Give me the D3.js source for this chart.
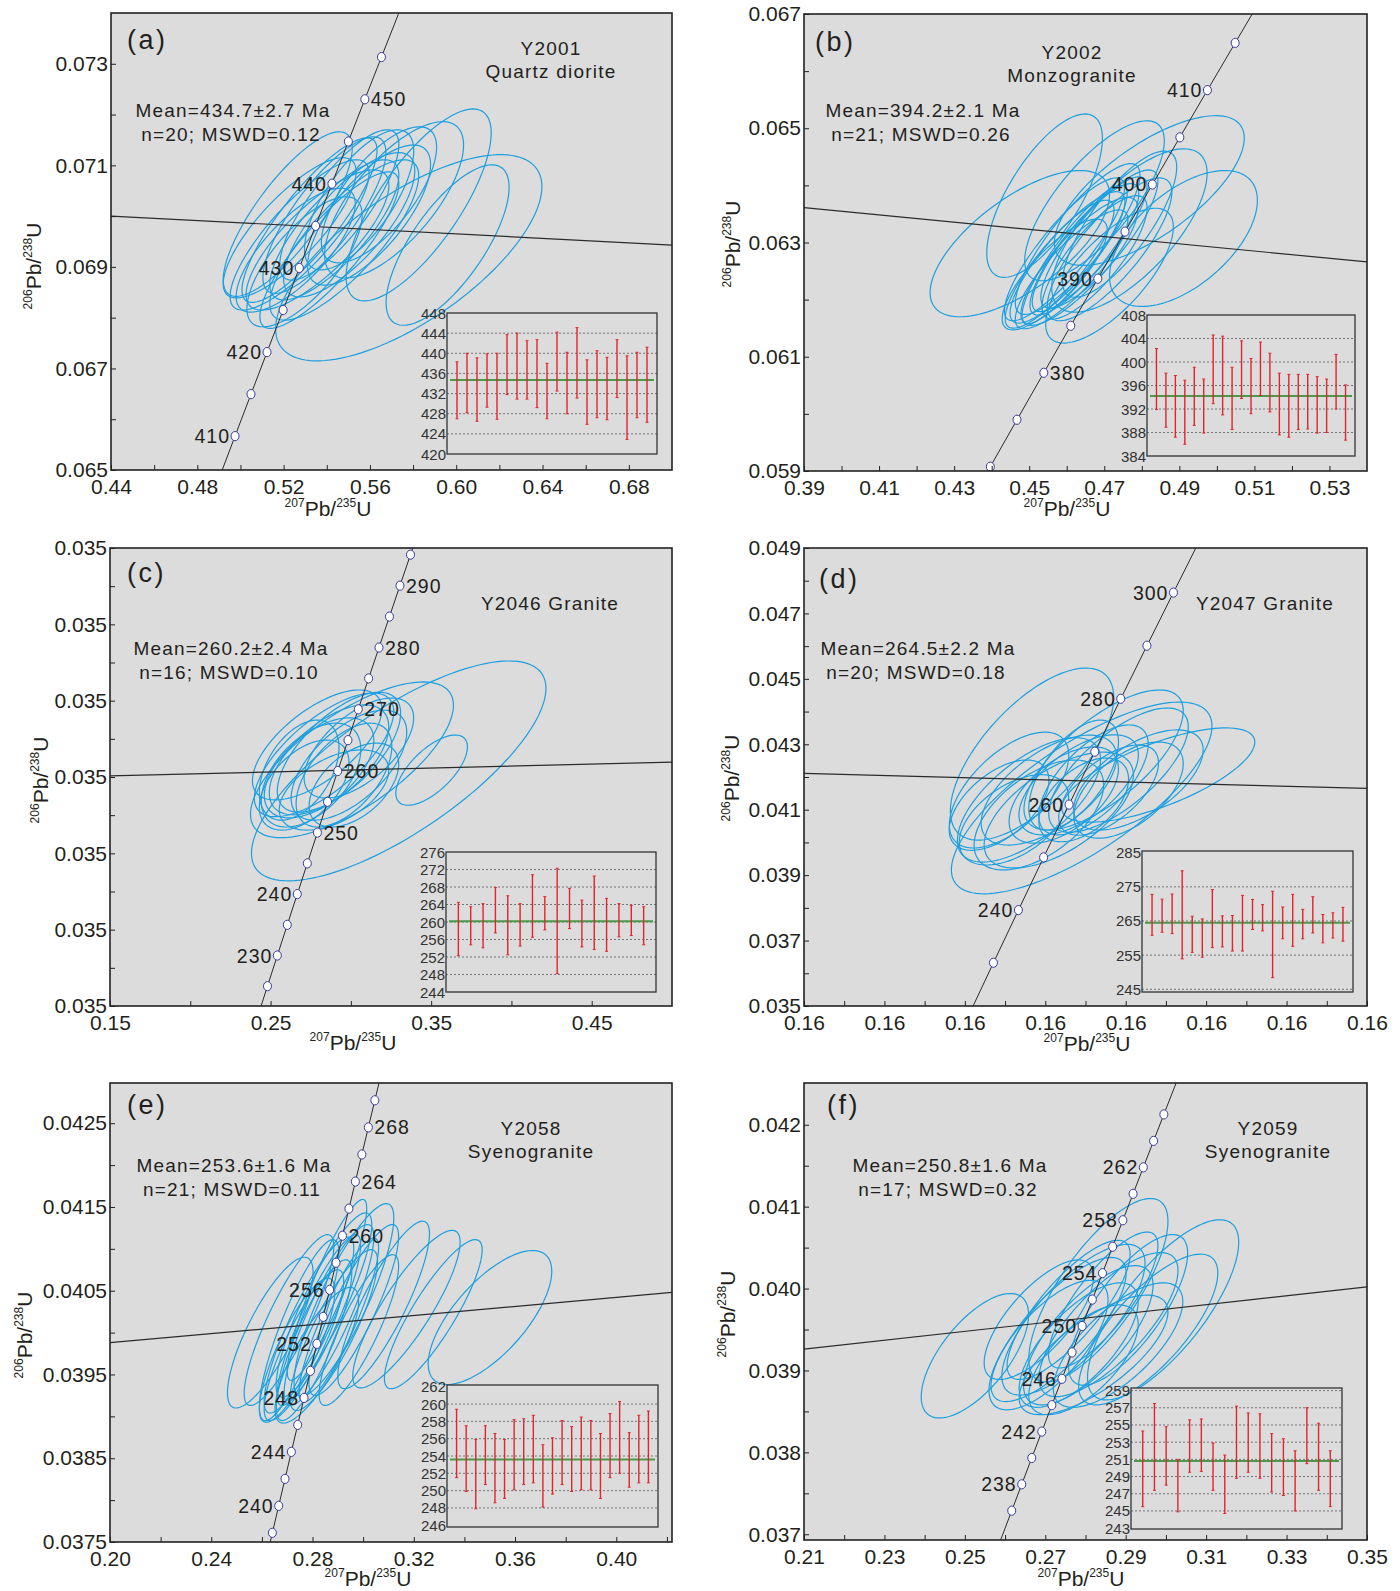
<!DOCTYPE html>
<html>
<head>
<meta charset="utf-8">
<script src="https://cdn.jsdelivr.net/npm/d3@7"></script>
<style>
  body { margin: 0; background: #fff; }
  svg { font-family: "Liberation Sans", Arial, Helvetica, sans-serif; }
</style>
</head>
<body>
<svg id="fig" width="1400" height="1591"></svg>
<script>
// decay constants (per year) used to place the concordia ages
const L235 = 9.8485e-10, L238 = 1.55125e-10;

// ---------- panel (a) Y2001 ----------
const xTicksA = [0.44, 0.48, 0.52, 0.56, 0.60, 0.64, 0.68];
const xLabelsA = ['0.44', '0.48', '0.52', '0.56', '0.60', '0.64', '0.68'];
const xMinorA = [0.46, 0.50, 0.54, 0.58, 0.62, 0.66];
const yTicksA = [0.065, 0.067, 0.069, 0.071, 0.073];
const yLabelsA = ['0.065', '0.067', '0.069', '0.071', '0.073'];
const yMinorA = [0.066, 0.068, 0.070, 0.072];
const markerAgesA = [410, 415, 420, 425, 430, 435, 440, 445, 450, 455];
const lineAgesA = [395, 400, 405, 410, 415, 420, 425, 430, 435, 440, 445, 450, 455, 460, 465, 470];
const ageLabelsA = [[410, 'L'], [420, 'L'], [430, 'L'], [440, 'L'], [450, 'R']];
// [207Pb/235U, err, 206Pb/238U, err, rho]
const ellipsesA = [
  [0.5228, 0.0308, 0.06977, 0.00138, 0.80], [0.5274, 0.0322, 0.06963, 0.00148, 0.82],
  [0.5320, 0.0313, 0.06992, 0.00162, 0.85], [0.5357, 0.0331, 0.06953, 0.00138, 0.78],
  [0.5256, 0.0276, 0.06933, 0.00122, 0.75], [0.5389, 0.0285, 0.07002, 0.00154, 0.80],
  [0.5435, 0.0299, 0.06973, 0.00138, 0.78], [0.5458, 0.0276, 0.07022, 0.00148, 0.80],
  [0.5504, 0.0304, 0.06983, 0.00142, 0.75], [0.5550, 0.0253, 0.07032, 0.00138, 0.70],
  [0.5596, 0.0285, 0.07002, 0.00138, 0.72], [0.5219, 0.0299, 0.07004, 0.00162, 0.80],
  [0.5642, 0.0267, 0.07042, 0.00134, 0.70], [0.5712, 0.0322, 0.07032, 0.00154, 0.70],
  [0.5780, 0.0617, 0.06918, 0.00203, 0.69], [0.5960, 0.0285, 0.06943, 0.00158, 0.72],
  [0.5826, 0.0336, 0.07022, 0.00189, 0.75], [0.5412, 0.0322, 0.06933, 0.00154, 0.85],
  [0.5481, 0.0345, 0.06953, 0.00158, 0.80], [0.5297, 0.0267, 0.06910, 0.00128, 0.72]
];
const refLineA = [[0.44, 0.07000], [0.70, 0.06943]];
const barsA = [[427.0, 438.3], [428.2, 440.0], [426.5, 439.1], [429.3, 439.9], [426.9, 440.0],
  [431.8, 443.7], [430.9, 444.0], [430.9, 442.5], [429.2, 442.7], [427.0, 438.0],
  [432.5, 444.2], [428.0, 440.2], [431.1, 445.1], [425.9, 438.7], [427.2, 440.5],
  [426.8, 439.2], [431.2, 442.7], [422.9, 439.5], [427.2, 440.2], [426.3, 441.2]];
const insetTicksA = [420, 424, 428, 432, 436, 440, 444, 448];
const meanA = 434.7;

// ---------- panel (b) Y2002 ----------
const xTicksB = [0.39, 0.41, 0.43, 0.45, 0.47, 0.49, 0.51, 0.53];
const xLabelsB = ['0.39', '0.41', '0.43', '0.45', '0.47', '0.49', '0.51', '0.53'];
const xMinorB = [0.40, 0.42, 0.44, 0.46, 0.48, 0.50, 0.52];
const yTicksB = [0.059, 0.061, 0.063, 0.065, 0.067];
const yLabelsB = ['0.059', '0.061', '0.063', '0.065', '0.067'];
const yMinorB = [0.060, 0.062, 0.064, 0.066];
const markerAgesB = [370, 375, 380, 385, 390, 395, 400, 405, 410, 415];
const lineAgesB = [360, 365, 370, 375, 380, 385, 390, 395, 400, 405, 410, 415, 420, 425, 430];
const ageLabelsB = [[380, 'R'], [390, 'L'], [400, 'L'], [410, 'L']];
const ellipsesB = [
  [0.4475, 0.0239, 0.06298, 0.00128, 0.67], [0.4911, 0.0197, 0.06307, 0.00119, 0.56],
  [0.4820, 0.0253, 0.06391, 0.00131, 0.70], [0.4541, 0.0154, 0.06382, 0.00143, 0.70],
  [0.4674, 0.0186, 0.06373, 0.00140, 0.75], [0.4767, 0.0207, 0.06321, 0.00143, 0.70],
  [0.4581, 0.0145, 0.06262, 0.00112, 0.85], [0.4602, 0.0153, 0.06274, 0.00115, 0.85],
  [0.4621, 0.0140, 0.06279, 0.00121, 0.88], [0.4634, 0.0156, 0.06267, 0.00112, 0.82],
  [0.4647, 0.0145, 0.06288, 0.00115, 0.85], [0.4613, 0.0150, 0.06253, 0.00104, 0.84],
  [0.4661, 0.0153, 0.06297, 0.00118, 0.86], [0.4594, 0.0160, 0.06288, 0.00125, 0.86],
  [0.4674, 0.0140, 0.06274, 0.00108, 0.80], [0.4687, 0.0156, 0.06306, 0.00121, 0.84],
  [0.4629, 0.0166, 0.06306, 0.00132, 0.85], [0.4568, 0.0140, 0.06244, 0.00097, 0.80],
  [0.4714, 0.0166, 0.06288, 0.00125, 0.80], [0.4741, 0.0152, 0.06332, 0.00128, 0.78],
  [0.4714, 0.0170, 0.06242, 0.00118, 0.72]
];
const refLineB = [[0.39, 0.06361], [0.54, 0.06266]];
const barsB = [[391.9, 402.3], [388.9, 398.1], [387.2, 397.7], [386.0, 396.9], [389.2, 399.1],
  [387.9, 397.1], [392.9, 404.6], [391.0, 404.4], [388.5, 399.1], [393.8, 403.6],
  [391.2, 400.6], [394.3, 403.4], [391.5, 401.5], [387.6, 398.1], [387.2, 397.9],
  [388.5, 397.9], [388.6, 397.9], [387.9, 397.5], [388.0, 397.1], [392.0, 401.3], [386.7, 396.1]];
const insetTicksB = [384, 388, 392, 396, 400, 404, 408];
const meanB = 394.2;

// ---------- panel (c) Y2046 ----------
const xTicksC = [0.15, 0.25, 0.35, 0.45];
const xLabelsC = ['0.15', '0.25', '0.35', '0.45'];
const xMinorC = [0.20, 0.30, 0.40];
const yTicksC = [0.035, 0.037, 0.039, 0.041, 0.043, 0.045, 0.047];
const yLabelsC = ['0.035', '0.035', '0.035', '0.035', '0.035', '0.035', '0.035'];
const yMinorC = [0.036, 0.038, 0.040, 0.042, 0.044, 0.046];
const markerAgesC = [225, 230, 235, 240, 245, 250, 255, 260, 265, 270, 275, 280, 285, 290, 295];
const lineAgesC = [210, 215, 220, 225, 230, 235, 240, 245, 250, 255, 260, 265, 270, 275, 280, 285, 290, 295, 300, 305, 310];
const ageLabelsC = [[230, 'L'], [240, 'L'], [250, 'R'], [260, 'R'], [270, 'R'], [280, 'R'], [290, 'R']];
const ellipsesC = [
  [0.3298, 0.0917, 0.04116, 0.00288, 0.75], [0.3503, 0.0223, 0.04118, 0.00092, 0.66],
  [0.3007, 0.0632, 0.04145, 0.00204, 0.70], [0.2864, 0.0372, 0.04145, 0.00144, 0.60],
  [0.2802, 0.0341, 0.04124, 0.00131, 0.55], [0.2926, 0.0384, 0.04165, 0.00157, 0.65],
  [0.2752, 0.0310, 0.04105, 0.00136, 0.50], [0.2988, 0.0360, 0.04131, 0.00144, 0.60],
  [0.2833, 0.0434, 0.04158, 0.00162, 0.70], [0.2709, 0.0279, 0.04079, 0.00118, 0.50],
  [0.2957, 0.0298, 0.04105, 0.00136, 0.55], [0.3050, 0.0341, 0.04176, 0.00131, 0.60],
  [0.2678, 0.0248, 0.04118, 0.00131, 0.45], [0.2895, 0.0341, 0.04066, 0.00105, 0.50],
  [0.3019, 0.0279, 0.04079, 0.00110, 0.50], [0.2790, 0.0403, 0.04184, 0.00144, 0.65]
];
const refLineC = [[0.15, 0.04103], [0.50, 0.04139]];
const barsC = [[252.3, 264.5], [254.8, 263.5], [254.1, 264.2], [257.5, 267.9], [252.5, 266.0],
  [254.5, 264.2], [256.5, 270.8], [258.2, 265.8], [248.2, 272.3], [258.5, 267.7],
  [254.3, 265.0], [253.7, 270.5], [253.3, 265.4], [256.6, 264.2], [256.9, 263.8], [254.8, 263.5]];
const insetTicksC = [244, 248, 252, 256, 260, 264, 268, 272, 276];
const meanC = 260.2;

// ---------- panel (d) Y2047 ----------
const xTicksD = [0.16, 0.20, 0.24, 0.28, 0.32, 0.36, 0.40, 0.44];
const xLabelsD = ['0.16', '0.16', '0.16', '0.16', '0.16', '0.16', '0.16', '0.16'];
const xMinorD = [0.18, 0.22, 0.26, 0.30, 0.34, 0.38, 0.42];
const yTicksD = [0.035, 0.037, 0.039, 0.041, 0.043, 0.045, 0.047, 0.049];
const yLabelsD = ['0.035', '0.037', '0.039', '0.041', '0.043', '0.045', '0.047', '0.049'];
const yMinorD = [0.036, 0.038, 0.040, 0.042, 0.044, 0.046, 0.048];
const markerAgesD = [230, 240, 250, 260, 270, 280, 290, 300];
const lineAgesD = [200, 210, 220, 230, 240, 250, 260, 270, 280, 290, 300, 310, 320];
const ageLabelsD = [[240, 'L'], [260, 'L'], [280, 'L'], [300, 'L']];
const ellipsesD = [
  [0.2734, 0.0406, 0.04270, 0.00263, 0.66], [0.2981, 0.0648, 0.04136, 0.00293, 0.75],
  [0.3362, 0.0480, 0.04206, 0.00144, 0.70], [0.2620, 0.0297, 0.04160, 0.00177, 0.60],
  [0.2719, 0.0356, 0.04130, 0.00190, 0.65], [0.2818, 0.0337, 0.04160, 0.00168, 0.60],
  [0.2892, 0.0272, 0.04145, 0.00147, 0.55], [0.2966, 0.0297, 0.04176, 0.00153, 0.60],
  [0.3040, 0.0272, 0.04191, 0.00168, 0.65], [0.3115, 0.0248, 0.04160, 0.00138, 0.60],
  [0.3164, 0.0347, 0.04221, 0.00190, 0.70], [0.2570, 0.0248, 0.04114, 0.00138, 0.55],
  [0.2867, 0.0371, 0.04099, 0.00177, 0.60], [0.2991, 0.0223, 0.04130, 0.00128, 0.50],
  [0.2768, 0.0322, 0.04084, 0.00168, 0.55], [0.3214, 0.0272, 0.04160, 0.00147, 0.55],
  [0.3090, 0.0396, 0.04252, 0.00214, 0.70], [0.2941, 0.0223, 0.04206, 0.00168, 0.60],
  [0.2644, 0.0272, 0.04069, 0.00138, 0.50], [0.3263, 0.0322, 0.04191, 0.00153, 0.60]
];
const refLineD = [[0.16, 0.04211], [0.44, 0.04165]];
const barsD = [[260.8, 272.8], [261.7, 271.4], [261.3, 272.9], [253.9, 279.7], [255.8, 266.4],
  [254.4, 265.6], [257.2, 274.2], [257.4, 266.5], [256.2, 266.6], [256.2, 272.5],
  [262.5, 271.3], [262.1, 269.8], [248.4, 273.7], [259.8, 269.1], [257.6, 272.8],
  [259.8, 268.4], [261.5, 272.1], [258.6, 266.9], [260.0, 267.4], [259.1, 269.0]];
const insetTicksD = [245, 255, 265, 275, 285];
const meanD = 264.5;

// ---------- panel (e) Y2058 ----------
const xTicksE = [0.20, 0.24, 0.28, 0.32, 0.36, 0.40];
const xLabelsE = ['0.20', '0.24', '0.28', '0.32', '0.36', '0.40'];
const xMinorE = [0.22, 0.26, 0.30, 0.34, 0.38, 0.42];
const yTicksE = [0.0375, 0.0385, 0.0395, 0.0405, 0.0415, 0.0425];
const yLabelsE = ['0.0375', '0.0385', '0.0395', '0.0405', '0.0415', '0.0425'];
const yMinorE = [0.038, 0.039, 0.040, 0.041, 0.042];
const markerAgesE = [238, 240, 242, 244, 246, 248, 250, 252, 254, 256, 258, 260, 262, 264, 266, 268, 270];
const lineAgesE = [230, 234, 238, 242, 246, 250, 254, 258, 262, 266, 270, 274, 278];
const ageLabelsE = [[240, 'L'], [244, 'L'], [248, 'L'], [252, 'L'], [256, 'L'], [260, 'R'], [264, 'R'], [268, 'R']];
const ellipsesE = [
  [0.3501, 0.0244, 0.04018, 0.00080, 0.69], [0.3277, 0.0193, 0.04022, 0.00089, 0.86],
  [0.3171, 0.0212, 0.04028, 0.00094, 0.85], [0.3081, 0.0181, 0.04033, 0.00100, 0.85],
  [0.2633, 0.0169, 0.04000, 0.00090, 0.80], [0.2924, 0.0197, 0.04039, 0.00115, 0.85],
  [0.2747, 0.0157, 0.04003, 0.00108, 0.85], [0.2786, 0.0177, 0.04009, 0.00105, 0.87],
  [0.2825, 0.0165, 0.04015, 0.00102, 0.88], [0.2766, 0.0157, 0.03985, 0.00090, 0.85],
  [0.2865, 0.0177, 0.04021, 0.00108, 0.86], [0.2806, 0.0149, 0.03991, 0.00096, 0.84],
  [0.2845, 0.0189, 0.04033, 0.00110, 0.87], [0.2884, 0.0173, 0.04003, 0.00096, 0.85],
  [0.2739, 0.0149, 0.03979, 0.00086, 0.82], [0.2904, 0.0157, 0.04015, 0.00098, 0.88],
  [0.2963, 0.0177, 0.04027, 0.00102, 0.86], [0.2817, 0.0165, 0.03973, 0.00081, 0.80],
  [0.2707, 0.0177, 0.04015, 0.00102, 0.86], [0.2983, 0.0157, 0.04003, 0.00090, 0.85],
  [0.2857, 0.0157, 0.04051, 0.00108, 0.90]
];
const refLineE = [[0.20, 0.03988], [0.422, 0.04048]];
const barsE = [[251.5, 259.4], [249.9, 257.5], [247.9, 255.9], [250.7, 257.5], [248.6, 256.6],
  [249.1, 255.9], [250.1, 258.2], [250.7, 258.3], [250.9, 258.7], [248.1, 255.3],
  [249.6, 256.1], [250.7, 258.1], [249.9, 257.4], [250.1, 258.5], [250.1, 258.1],
  [249.1, 256.6], [251.5, 258.9], [252.0, 260.3], [250.4, 256.7], [250.9, 258.7], [250.9, 259.2]];
const insetTicksE = [246, 248, 250, 252, 254, 256, 258, 260, 262];
const meanE = 253.6;

// ---------- panel (f) Y2059 ----------
const xTicksF = [0.21, 0.23, 0.25, 0.27, 0.29, 0.31, 0.33, 0.35];
const xLabelsF = ['0.21', '0.23', '0.25', '0.27', '0.29', '0.31', '0.33', '0.35'];
const xMinorF = [0.22, 0.24, 0.26, 0.28, 0.30, 0.32, 0.34];
const yTicksF = [0.037, 0.038, 0.039, 0.040, 0.041, 0.042];
const yLabelsF = ['0.037', '0.038', '0.039', '0.040', '0.041', '0.042'];
const yMinorF = [0.0375, 0.0385, 0.0395, 0.0405, 0.0415];
const markerAgesF = [236, 238, 240, 242, 244, 246, 248, 250, 252, 254, 256, 258, 260, 262, 264, 266];
const lineAgesF = [226, 230, 234, 238, 242, 246, 250, 254, 258, 262, 266, 270, 274];
const ageLabelsF = [[238, 'L'], [242, 'L'], [246, 'L'], [250, 'L'], [254, 'L'], [258, 'L'], [262, 'L']];
const ellipsesF = [
  [0.2525, 0.01335, 0.03918, 0.00076, 0.66], [0.2993, 0.0188, 0.03974, 0.00110, 0.75],
  [0.2956, 0.0173, 0.03950, 0.00092, 0.75], [0.2832, 0.0173, 0.03998, 0.00112, 0.75],
  [0.2733, 0.0168, 0.03950, 0.00088, 0.78], [0.2770, 0.0178, 0.03962, 0.00092, 0.75],
  [0.2807, 0.0161, 0.03943, 0.00085, 0.72], [0.2857, 0.0173, 0.03956, 0.00088, 0.75],
  [0.2783, 0.0148, 0.03931, 0.00076, 0.70], [0.2708, 0.0148, 0.03931, 0.00079, 0.70],
  [0.2881, 0.0161, 0.03931, 0.00076, 0.70], [0.2820, 0.0185, 0.03919, 0.00073, 0.72],
  [0.2758, 0.0153, 0.03974, 0.00085, 0.80], [0.2906, 0.0148, 0.03974, 0.00092, 0.75],
  [0.2684, 0.0136, 0.03962, 0.00073, 0.72], [0.2844, 0.0136, 0.03986, 0.00083, 0.80],
  [0.2795, 0.0136, 0.03913, 0.00067, 0.65]
];
const refLineF = [[0.21, 0.03926], [0.35, 0.04002]];
const barsF = [[245.5, 254.3], [247.4, 257.5], [248.0, 254.8], [244.9, 251.0], [249.5, 255.6],
  [249.6, 255.7], [247.4, 252.9], [244.7, 251.5], [248.8, 257.2], [249.5, 256.4],
  [248.8, 256.3], [247.2, 254.0], [246.8, 253.4], [245.0, 252.0], [250.5, 257.0],
  [247.4, 255.2], [245.5, 252.0]];
const insetTicksF = [243, 245, 247, 249, 251, 253, 255, 257, 259];
const meanF = 250.8;

// ---------- layout + options per panel ----------
const panels = [
  { id: 'a', box: [111, 13, 672, 470], xDomain: [0.44, 0.70], yDomain: [0.065, 0.074],
    xTicks: xTicksA, xLabels: xLabelsA, xMinor: xMinorA, yTicks: yTicksA, yLabels: yLabelsA, yMinor: yMinorA,
    markers: markerAgesA, lineAges: lineAgesA, ageLabels: ageLabelsA, ellipses: ellipsesA, refLine: refLineA,
    bars: barsA, insetTicks: insetTicksA, mean: meanA, inset: [447, 313, 657, 454], insetDomain: [420, 448],
    letter: [127, 49], sample: ['Y2001', 'Quartz diorite'], samplePos: [551, 55],
    stats: ['Mean=434.7\u00b12.7 Ma', 'n=20; MSWD=0.12'], statsPos: [233, 117],
    xTitle: [328, 516], yTitle: [41, 266] },
  { id: 'b', box: [804, 14, 1367, 471], xDomain: [0.39, 0.54], yDomain: [0.059, 0.067],
    xTicks: xTicksB, xLabels: xLabelsB, xMinor: xMinorB, yTicks: yTicksB, yLabels: yLabelsB, yMinor: yMinorB,
    markers: markerAgesB, lineAges: lineAgesB, ageLabels: ageLabelsB, ellipses: ellipsesB, refLine: refLineB,
    bars: barsB, insetTicks: insetTicksB, mean: meanB, inset: [1147, 315, 1355, 456], insetDomain: [384, 408],
    letter: [815, 51], sample: ['Y2002', 'Monzogranite'], samplePos: [1072, 59],
    stats: ['Mean=394.2\u00b12.1 Ma', 'n=21; MSWD=0.26'], statsPos: [923, 117],
    xTitle: [1067, 516], yTitle: [740, 244] },
  { id: 'c', box: [110, 548, 672, 1006], xDomain: [0.15, 0.50], yDomain: [0.035, 0.047],
    xTicks: xTicksC, xLabels: xLabelsC, xMinor: xMinorC, yTicks: yTicksC, yLabels: yLabelsC, yMinor: yMinorC,
    markers: markerAgesC, lineAges: lineAgesC, ageLabels: ageLabelsC, ellipses: ellipsesC, refLine: refLineC,
    bars: barsC, insetTicks: insetTicksC, mean: meanC, inset: [446, 852, 656, 992], insetDomain: [244, 276],
    letter: [127, 582], sample: ['Y2046 Granite'], samplePos: [550, 610],
    stats: ['Mean=260.2\u00b12.4 Ma', 'n=16; MSWD=0.10'], statsPos: [231, 655],
    xTitle: [353, 1050], yTitle: [48, 780] },
  { id: 'd', box: [804, 548, 1367, 1006], xDomain: [0.16, 0.44], yDomain: [0.035, 0.049],
    xTicks: xTicksD, xLabels: xLabelsD, xMinor: xMinorD, yTicks: yTicksD, yLabels: yLabelsD, yMinor: yMinorD,
    markers: markerAgesD, lineAges: lineAgesD, ageLabels: ageLabelsD, ellipses: ellipsesD, refLine: refLineD,
    bars: barsD, insetTicks: insetTicksD, mean: meanD, inset: [1142, 851, 1353, 992], insetDomain: [244.2, 285.5],
    letter: [819, 588], sample: ['Y2047 Granite'], samplePos: [1265, 610],
    stats: ['Mean=264.5\u00b12.2 Ma', 'n=20; MSWD=0.18'], statsPos: [918, 655],
    xTitle: [1087, 1051], yTitle: [739, 778] },
  { id: 'e', box: [110, 1083, 672, 1542], xDomain: [0.20, 0.422], yDomain: [0.0375, 0.04298],
    xTicks: xTicksE, xLabels: xLabelsE, xMinor: xMinorE, yTicks: yTicksE, yLabels: yLabelsE, yMinor: yMinorE,
    markers: markerAgesE, lineAges: lineAgesE, ageLabels: ageLabelsE, ellipses: ellipsesE, refLine: refLineE,
    bars: barsE, insetTicks: insetTicksE, mean: meanE, inset: [447, 1385, 658, 1527], insetDomain: [245.8, 262.2],
    letter: [127, 1114], sample: ['Y2058', 'Syenogranite'], samplePos: [531, 1135],
    stats: ['Mean=253.6\u00b11.6 Ma', 'n=21; MSWD=0.11'], statsPos: [234, 1172],
    xTitle: [368, 1586], yTitle: [32, 1335] },
  { id: 'f', box: [804, 1083, 1367, 1540], xDomain: [0.21, 0.35], yDomain: [0.03693, 0.04251],
    xTicks: xTicksF, xLabels: xLabelsF, xMinor: xMinorF, yTicks: yTicksF, yLabels: yLabelsF, yMinor: yMinorF,
    markers: markerAgesF, lineAges: lineAgesF, ageLabels: ageLabelsF, ellipses: ellipsesF, refLine: refLineF,
    bars: barsF, insetTicks: insetTicksF, mean: meanF, inset: [1131, 1388, 1342, 1529], insetDomain: [242.9, 259.3],
    letter: [827, 1114], sample: ['Y2059', 'Syenogranite'], samplePos: [1268, 1135],
    stats: ['Mean=250.8\u00b11.6 Ma', 'n=17; MSWD=0.32'], statsPos: [950, 1172],
    xTitle: [1081, 1586], yTitle: [735, 1314] }
];

const svg = d3.select('#fig');
const defs = svg.append('defs');
const ink = '#231f20';

function concordia(age) {
  return [Math.exp(L235 * age * 1e6) - 1, Math.exp(L238 * age * 1e6) - 1];
}

function isotopeTitle(sel, a, b) {
  sel.append('tspan').attr('font-size', 12).attr('dy', -9).text(a);
  sel.append('tspan').attr('font-size', 21).attr('dy', 9).text('Pb/');
  sel.append('tspan').attr('font-size', 12).attr('dy', -9).text(b);
  sel.append('tspan').attr('font-size', 21).attr('dy', 9).text('U');
}

function drawPanel(p) {
  const [x0, y0, x1, y1] = p.box;
  const x = d3.scaleLinear().domain(p.xDomain).range([x0, x1]);
  const y = d3.scaleLinear().domain(p.yDomain).range([y1, y0]);
  const g = svg.append('g');

  defs.append('clipPath').attr('id', 'clip-' + p.id)
    .append('rect').attr('x', x0).attr('y', y0).attr('width', x1 - x0).attr('height', y1 - y0);

  g.append('rect').attr('x', x0).attr('y', y0).attr('width', x1 - x0).attr('height', y1 - y0)
    .attr('fill', '#dcdcdc');

  const plot = g.append('g').attr('clip-path', 'url(#clip-' + p.id + ')');
  const path = d3.line().x(d => x(d[0])).y(d => y(d[1]));

  // error ellipses (with x-y error correlation)
  const angles = d3.range(0, 360, 3).map(d => d * Math.PI / 180);
  plot.selectAll('path.ell').data(p.ellipses).join('path')
    .attr('class', 'ell')
    .attr('d', e => path.curve(d3.curveLinearClosed)(angles.map(t => [
      e[0] + e[1] * Math.cos(t),
      e[2] + e[3] * (e[4] * Math.cos(t) + Math.sqrt(1 - e[4] * e[4]) * Math.sin(t))
    ])))
    .attr('fill', 'none').attr('stroke', '#1c9fe0').attr('stroke-width', 1.2);

  // straight reference line
  plot.append('path').attr('d', path.curve(d3.curveLinear)(p.refLine))
    .attr('fill', 'none').attr('stroke', '#2b2b2b').attr('stroke-width', 1.2);

  // concordia curve and age nodes
  plot.append('path').attr('d', path.curve(d3.curveLinear)(p.lineAges.map(concordia)))
    .attr('fill', 'none').attr('stroke', '#2b2b2b').attr('stroke-width', 1);
  plot.selectAll('ellipse.node').data(p.markers).join('ellipse')
    .attr('class', 'node')
    .attr('cx', a => x(concordia(a)[0])).attr('cy', a => y(concordia(a)[1]))
    .attr('rx', 4).attr('ry', 4.6)
    .attr('fill', '#fff').attr('stroke', '#3a3a9c').attr('stroke-width', 1);
  plot.selectAll('text.age').data(p.ageLabels).join('text')
    .attr('class', 'age')
    .attr('x', d => x(concordia(d[0])[0]) + (d[1] === 'L' ? -5 : 6))
    .attr('y', d => y(concordia(d[0])[1]) + 7)
    .attr('text-anchor', d => d[1] === 'L' ? 'end' : 'start')
    .attr('font-size', 19.5).attr('letter-spacing', 1).attr('fill', ink)
    .text(d => d[0]);

  // inset weighted-mean plot
  const b = p.inset, n = p.bars.length;
  const ix = d3.scaleLinear().domain([0, n + 1]).range([b[0], b[2]]);
  const iy = d3.scaleLinear().domain(p.insetDomain).range([b[3], b[1]]);
  const ins = g.append('g');
  ins.append('rect').attr('x', b[0]).attr('y', b[1]).attr('width', b[2] - b[0]).attr('height', b[3] - b[1])
    .attr('fill', '#dcdcdc');
  ins.selectAll('line.grid').data(p.insetTicks.filter(t => iy(t) > b[1] + 2 && iy(t) < b[3] - 2)).join('line')
    .attr('x1', b[0]).attr('x2', b[2]).attr('y1', d => iy(d)).attr('y2', d => iy(d))
    .attr('stroke', '#5a5a5a').attr('stroke-width', 0.8).attr('stroke-dasharray', '2,2');
  ins.append('line').attr('x1', b[0] + 3).attr('x2', b[2] - 3)
    .attr('y1', iy(p.mean)).attr('y2', iy(p.mean))
    .attr('stroke', '#4a9a4a').attr('stroke-width', 2);
  const bar = ins.selectAll('g.bar').data(p.bars).join('g');
  bar.append('line')
    .attr('x1', (d, i) => ix(i + 1)).attr('x2', (d, i) => ix(i + 1))
    .attr('y1', d => iy(d[0])).attr('y2', d => iy(d[1]))
    .attr('stroke', '#e4232a').attr('stroke-width', 1.4);
  bar.selectAll('line.cap').data(d => d).join('line')
    .attr('class', 'cap')
    .attr('x1', function () { return +this.parentNode.firstChild.getAttribute('x1') - 1.5; })
    .attr('x2', function () { return +this.parentNode.firstChild.getAttribute('x1') + 1.5; })
    .attr('y1', v => iy(v)).attr('y2', v => iy(v))
    .attr('stroke', '#e4232a').attr('stroke-width', 1);
  ins.append('rect').attr('x', b[0]).attr('y', b[1]).attr('width', b[2] - b[0]).attr('height', b[3] - b[1])
    .attr('fill', 'none').attr('stroke', '#333').attr('stroke-width', 1.3);
  ins.selectAll('text.it').data(p.insetTicks).join('text')
    .attr('x', b[0] - 1).attr('y', d => iy(d) + 5.5)
    .attr('text-anchor', 'end').attr('font-size', 15).attr('fill', '#333')
    .text(d => d);

  // annotations
  g.append('text').attr('x', p.letter[0]).attr('y', p.letter[1])
    .attr('font-size', 27).attr('letter-spacing', 2.5).attr('fill', ink).text('(' + p.id + ')');
  p.sample.forEach((s, i) => g.append('text')
    .attr('x', p.samplePos[0]).attr('y', p.samplePos[1] + i * 22.5)
    .attr('text-anchor', 'middle').attr('font-size', 19).attr('letter-spacing', 1.2)
    .attr('fill', ink).text(s));
  p.stats.forEach((s, i) => g.append('text')
    .attr('x', p.statsPos[0] - i * 2).attr('y', p.statsPos[1] + i * 24)
    .attr('text-anchor', 'middle').attr('font-size', 19).attr('letter-spacing', 1.2)
    .attr('fill', ink).text(s));

  // frame
  g.append('rect').attr('x', x0).attr('y', y0).attr('width', x1 - x0).attr('height', y1 - y0)
    .attr('fill', 'none').attr('stroke', '#222').attr('stroke-width', 1.6);

  // axes with inward ticks
  const styleAxis = a => {
    a.select('.domain').remove();
    a.selectAll('line').attr('stroke', '#222');
    a.selectAll('text').attr('font-size', 21).attr('fill', ink)
      .attr('font-family', '"Liberation Sans", Arial, sans-serif');
  };
  g.append('g').attr('transform', `translate(0,${y1})`)
    .call(d3.axisBottom(x).tickValues(p.xTicks).tickFormat((d, i) => p.xLabels[i]).tickSize(-5).tickPadding(9))
    .call(styleAxis);
  g.append('g').attr('transform', `translate(0,${y1})`)
    .call(d3.axisBottom(x).tickValues(p.xMinor).tickFormat('').tickSize(-5))
    .call(styleAxis);
  g.append('g').attr('transform', `translate(${x0},0)`)
    .call(d3.axisLeft(y).tickValues(p.yTicks).tickFormat((d, i) => p.yLabels[i]).tickSize(-5).tickPadding(3))
    .call(styleAxis);
  g.append('g').attr('transform', `translate(${x0},0)`)
    .call(d3.axisLeft(y).tickValues(p.yMinor).tickFormat('').tickSize(-5))
    .call(styleAxis);

  // axis titles
  const xt = g.append('text').attr('x', p.xTitle[0]).attr('y', p.xTitle[1])
    .attr('text-anchor', 'middle').attr('fill', ink);
  isotopeTitle(xt, '207', '235');
  const yt = g.append('text')
    .attr('transform', `translate(${p.yTitle[0]},${p.yTitle[1]}) rotate(-90)`)
    .attr('text-anchor', 'middle').attr('fill', ink);
  isotopeTitle(yt, '206', '238');
}

panels.forEach(drawPanel);
</script>
</body>
</html>
